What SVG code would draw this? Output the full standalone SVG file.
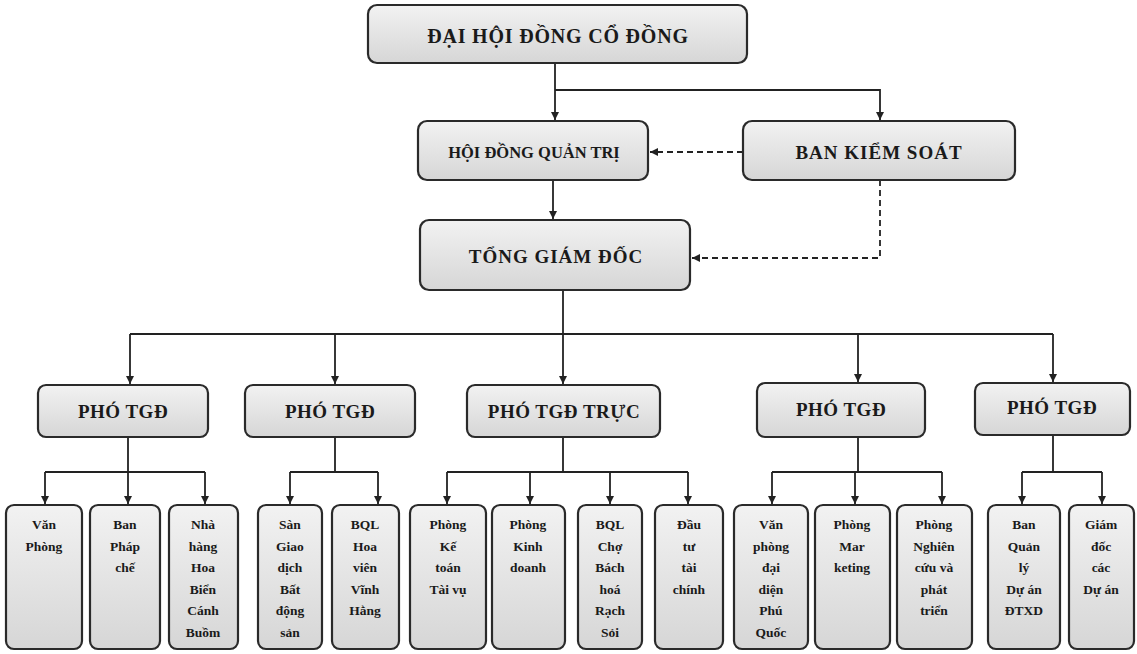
<svg xmlns="http://www.w3.org/2000/svg" width="1137" height="654" viewBox="0 0 1137 654">
<defs>
<linearGradient id="g" x1="0" y1="0" x2="0" y2="1">
<stop offset="0" stop-color="#f2f2f2"/>
<stop offset="1" stop-color="#d6d6d6"/>
</linearGradient>
<marker id="ar" viewBox="0 0 10 10" refX="10" refY="5" markerWidth="8" markerHeight="8" markerUnits="userSpaceOnUse" orient="auto">
<path d="M0,0 L10,5 L0,10 z" fill="#222"/>
</marker>
<style>
.b{fill:url(#g);stroke:#2a2a2a;stroke-width:2.2}
.t{font-family:"Liberation Serif","Times New Roman",serif;font-weight:bold;fill:#1a1a1a;text-anchor:middle}
.h{font-size:16.5px}
.k{font-size:19px;letter-spacing:1px}
.p{font-size:19px;letter-spacing:0.5px}
.s{font-size:13.5px}
.c{fill:none;stroke:#222;stroke-width:1.8}
.d{fill:none;stroke:#222;stroke-width:1.8;stroke-dasharray:6 4}
</style>
</defs>
<rect width="1137" height="654" fill="#fff"/>

<g id="connectors">
<path class="c" d="M555,63 V120" marker-end="url(#ar)"/>
<path class="c" d="M555,90 H880 V120" marker-end="url(#ar)"/>
<path class="d" d="M743,152 H650" marker-end="url(#ar)"/>
<path class="c" d="M553,180 V219" marker-end="url(#ar)"/>
<path class="d" d="M880,180 V258 H692" marker-end="url(#ar)"/>
<path class="c" d="M563,290 V384" marker-end="url(#ar)"/>
<path class="c" d="M130,334 H1053"/>
<path class="c" d="M130,334 V384" marker-end="url(#ar)"/>
<path class="c" d="M335,334 V384" marker-end="url(#ar)"/>
<path class="c" d="M858,334 V382" marker-end="url(#ar)"/>
<path class="c" d="M1053,334 V382" marker-end="url(#ar)"/>

<path class="c" d="M128,437 V472 M45,472 H205"/>
<path class="c" d="M45,472 V504" marker-end="url(#ar)"/>
<path class="c" d="M128,472 V504" marker-end="url(#ar)"/>
<path class="c" d="M205,472 V504" marker-end="url(#ar)"/>

<path class="c" d="M335,437 V472 M290,472 H378"/>
<path class="c" d="M290,472 V504" marker-end="url(#ar)"/>
<path class="c" d="M378,472 V504" marker-end="url(#ar)"/>

<path class="c" d="M563,437 V472 M447,472 H688"/>
<path class="c" d="M447,472 V504" marker-end="url(#ar)"/>
<path class="c" d="M530,472 V504" marker-end="url(#ar)"/>
<path class="c" d="M610,472 V504" marker-end="url(#ar)"/>
<path class="c" d="M688,472 V504" marker-end="url(#ar)"/>

<path class="c" d="M858,437 V472 M772,472 H942"/>
<path class="c" d="M772,472 V504" marker-end="url(#ar)"/>
<path class="c" d="M855,472 V504" marker-end="url(#ar)"/>
<path class="c" d="M942,472 V504" marker-end="url(#ar)"/>

<path class="c" d="M1053,435 V472 M1022,472 H1102"/>
<path class="c" d="M1022,472 V504" marker-end="url(#ar)"/>
<path class="c" d="M1102,472 V504" marker-end="url(#ar)"/>
</g>

<g id="dhdcd"><rect class="b" x="368" y="5" width="379" height="58" rx="9"/><text class="t" x="558" y="43" font-size="20" letter-spacing="0.8">ĐẠI HỘI ĐỒNG CỔ ĐỒNG</text></g>
<g id="hdqt"><rect class="b" x="418" y="121" width="230" height="59" rx="9"/><text class="t h" x="534" y="158">HỘI ĐỒNG QUẢN TRỊ</text></g>
<g id="bks"><rect class="b" x="743" y="121" width="272" height="59" rx="9"/><text class="t k" x="879" y="159">BAN KIỂM SOÁT</text></g>
<g id="tgd"><rect class="b" x="420" y="220" width="270" height="70" rx="9"/><text class="t k" x="556" y="263">TỔNG GIÁM ĐỐC</text></g>

<g id="ptgd1"><rect class="b" x="38" y="385" width="170" height="52" rx="8"/><text class="t p" x="123" y="418">PHÓ TGĐ</text></g>
<g id="ptgd2"><rect class="b" x="245" y="385" width="170" height="52" rx="8"/><text class="t p" x="330" y="418">PHÓ TGĐ</text></g>
<g id="ptgd3"><rect class="b" x="467" y="385" width="193" height="52" rx="8"/><text class="t p" x="564" y="418">PHÓ TGĐ TRỰC</text></g>
<g id="ptgd4"><rect class="b" x="757" y="383" width="168" height="54" rx="8"/><text class="t p" x="841" y="416">PHÓ TGĐ</text></g>
<g id="ptgd5"><rect class="b" x="975" y="383" width="155" height="52" rx="8"/><text class="t p" x="1052" y="414">PHÓ TGĐ</text></g>

<g id="b1"><rect class="b" x="6" y="505" width="76" height="144" rx="8"/><text class="t s" x="44" y="529"><tspan x="44">Văn</tspan><tspan x="44" dy="21.5">Phòng</tspan></text></g>
<g id="b2"><rect class="b" x="90" y="505" width="70" height="144" rx="8"/><text class="t s" x="125" y="529"><tspan x="125">Ban</tspan><tspan x="125" dy="21.5">Pháp</tspan><tspan x="125" dy="21.5">chế</tspan></text></g>
<g id="b3"><rect class="b" x="169" y="505" width="69" height="144" rx="8"/><text class="t s" x="203" y="529"><tspan x="203">Nhà</tspan><tspan x="203" dy="21.5">hàng</tspan><tspan x="203" dy="21.5">Hoa</tspan><tspan x="203" dy="21.5">Biển</tspan><tspan x="203" dy="21.5">Cánh</tspan><tspan x="203" dy="21.5">Buồm</tspan></text></g>
<g id="b4"><rect class="b" x="258" y="505" width="64" height="144" rx="8"/><text class="t s" x="290" y="529"><tspan x="290">Sàn</tspan><tspan x="290" dy="21.5">Giao</tspan><tspan x="290" dy="21.5">dịch</tspan><tspan x="290" dy="21.5">Bất</tspan><tspan x="290" dy="21.5">động</tspan><tspan x="290" dy="21.5">sản</tspan></text></g>
<g id="b5"><rect class="b" x="332" y="505" width="67" height="144" rx="8"/><text class="t s" x="365" y="529"><tspan x="365">BQL</tspan><tspan x="365" dy="21.5">Hoa</tspan><tspan x="365" dy="21.5">viên</tspan><tspan x="365" dy="21.5">Vĩnh</tspan><tspan x="365" dy="21.5">Hằng</tspan></text></g>
<g id="b6"><rect class="b" x="410" y="505" width="76" height="144" rx="8"/><text class="t s" x="448" y="529"><tspan x="448">Phòng</tspan><tspan x="448" dy="21.5">Kế</tspan><tspan x="448" dy="21.5">toán</tspan><tspan x="448" dy="21.5">Tài vụ</tspan></text></g>
<g id="b7"><rect class="b" x="492" y="505" width="73" height="144" rx="8"/><text class="t s" x="528" y="529"><tspan x="528">Phòng</tspan><tspan x="528" dy="21.5">Kinh</tspan><tspan x="528" dy="21.5">doanh</tspan></text></g>
<g id="b8"><rect class="b" x="578" y="505" width="64" height="144" rx="8"/><text class="t s" x="610" y="529"><tspan x="610">BQL</tspan><tspan x="610" dy="21.5">Chợ</tspan><tspan x="610" dy="21.5">Bách</tspan><tspan x="610" dy="21.5">hoá</tspan><tspan x="610" dy="21.5">Rạch</tspan><tspan x="610" dy="21.5">Sỏi</tspan></text></g>
<g id="b9"><rect class="b" x="655" y="505" width="68" height="144" rx="8"/><text class="t s" x="689" y="529"><tspan x="689">Đầu</tspan><tspan x="689" dy="21.5">tư</tspan><tspan x="689" dy="21.5">tài</tspan><tspan x="689" dy="21.5">chính</tspan></text></g>
<g id="b10"><rect class="b" x="734" y="505" width="74" height="144" rx="8"/><text class="t s" x="771" y="529"><tspan x="771">Văn</tspan><tspan x="771" dy="21.5">phòng</tspan><tspan x="771" dy="21.5">đại</tspan><tspan x="771" dy="21.5">diện</tspan><tspan x="771" dy="21.5">Phú</tspan><tspan x="771" dy="21.5">Quốc</tspan></text></g>
<g id="b11"><rect class="b" x="815" y="505" width="75" height="144" rx="8"/><text class="t s" x="852" y="529"><tspan x="852">Phòng</tspan><tspan x="852" dy="21.5">Mar</tspan><tspan x="852" dy="21.5">keting</tspan></text></g>
<g id="b12"><rect class="b" x="897" y="505" width="75" height="144" rx="8"/><text class="t s" x="934" y="529"><tspan x="934">Phòng</tspan><tspan x="934" dy="21.5">Nghiên</tspan><tspan x="934" dy="21.5">cứu và</tspan><tspan x="934" dy="21.5">phát</tspan><tspan x="934" dy="21.5">triển</tspan></text></g>
<g id="b13"><rect class="b" x="988" y="505" width="72" height="144" rx="8"/><text class="t s" x="1024" y="529"><tspan x="1024">Ban</tspan><tspan x="1024" dy="21.5">Quản</tspan><tspan x="1024" dy="21.5">lý</tspan><tspan x="1024" dy="21.5">Dự án</tspan><tspan x="1024" dy="21.5">ĐTXD</tspan></text></g>
<g id="b14"><rect class="b" x="1069" y="505" width="65" height="144" rx="8"/><text class="t s" x="1101" y="529"><tspan x="1101">Giám</tspan><tspan x="1101" dy="21.5">đốc</tspan><tspan x="1101" dy="21.5">các</tspan><tspan x="1101" dy="21.5">Dự án</tspan></text></g>
</svg>
